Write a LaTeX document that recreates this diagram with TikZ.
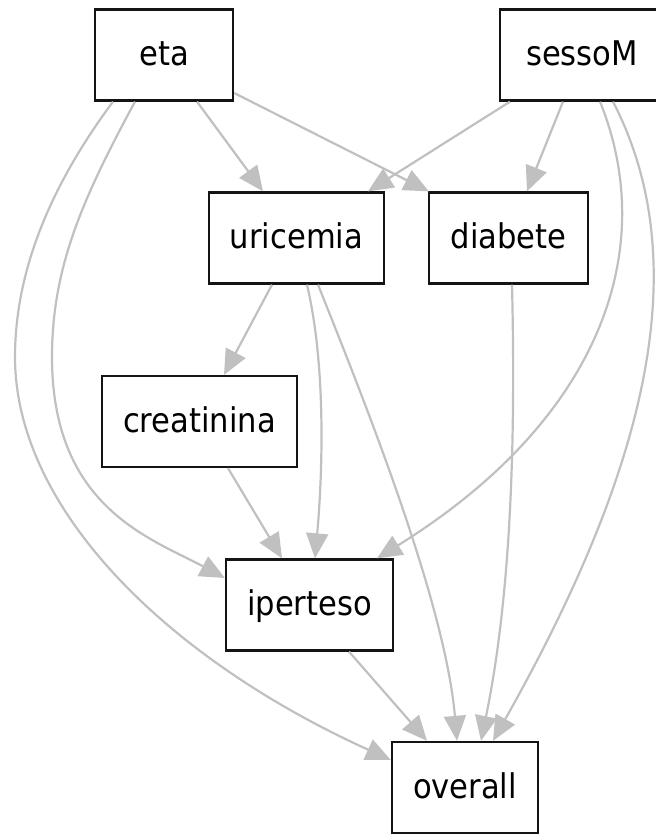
\documentclass[tikz,border=0pt]{standalone}
\usepackage{fontspec}
\setmainfont{DejaVu Sans Condensed}
\usetikzlibrary{arrows.meta}

\definecolor{edgegray}{RGB}{192,192,192}
\definecolor{boxline}{RGB}{20,20,20}

\tikzset{
  var/.style={draw=boxline, line width=2.3pt, rectangle, minimum height=91pt,
    inner sep=0pt, text height=27pt, text depth=6pt,
    font=\fontsize{34pt}{37pt}\selectfont, text=black},
  edge/.style={draw=edgegray, line width=2.2pt,
    -{Triangle[length=25pt,width=22pt,fill=edgegray]}}
}

\begin{document}
\begin{tikzpicture}[x=1pt,y=-1pt]
\useasboundingbox (0,0) rectangle (656,836);
\clip (0,0) rectangle (656,836);

% variables
\node[var, minimum width=138pt] (eta)        at (164,55)      {eta};
\node[var, minimum width=164pt] (sesso)      at (582,55)      {sessoM};
\node[var, minimum width=175pt] (uric)       at (296.5,238)   {uricemia};
\node[var, minimum width=159pt] (diab)       at (508.5,238)   {diabete};
\node[var, minimum width=195pt] (creat)      at (199.5,421.5) {creatinina};
\node[var, minimum width=167pt] (iper)       at (309.5,605)   {iperteso};
\node[var, minimum width=146pt] (overall)    at (465,787.5)   {overall};

% straight dependencies
\draw[edge] ([shift={(33,0)}]eta.south) -- ([shift={(-33.5,0)}]uric.north);
\draw[edge] ([shift={(0,38)}]eta.east) -- ([shift={(1,0)}]diab.north west);
\draw[edge] ([shift={(-72,0)}]sesso.south) -- ([shift={(71.5,0)}]uric.north);
\draw[edge] ([shift={(-19,0)}]sesso.south) -- ([shift={(18.5,0)}]diab.north);
\draw[edge] ([shift={(-24.5,0)}]uric.south) -- ([shift={(24.5,0)}]creat.north);
\draw[edge] ([shift={(28.5,0)}]creat.south) -- ([shift={(-27.5,0)}]iper.north);
\draw[edge] ([shift={(39.5,0)}]iper.south) -- ([shift={(-38,0)}]overall.north);

% curved dependencies
\draw[edge] ([shift={(18,0)}]sesso.south) .. controls (660,250) and (600,420) .. ([shift={(67.5,0)}]iper.north);
\draw[edge] ([shift={(31,0)}]sesso.south) .. controls (700,270) and (640,480) .. ([shift={(28,0)}]overall.north);
\draw[edge] ([shift={(-29,0)}]eta.south) .. controls (83,198) and (52,267) .. (52,357)
  .. controls (52,507) and (150,538) .. ([shift={(0,-27)}]iper.west);
\draw[edge] ([shift={(-51,0)}]eta.south) .. controls (54,181) and (15,267) .. (15,357)
  .. controls (15,507) and (164,657) .. ([shift={(0,-27.5)}]overall.west);
\draw[edge] ([shift={(10.5,0)}]uric.south) .. controls (327,370) and (322,480) .. ([shift={(5.5,0)}]iper.north);
\draw[edge] ([shift={(21.5,0)}]uric.south) .. controls (360,390) and (445,600) .. ([shift={(-8,0)}]overall.north);
\draw[edge] ([shift={(3.5,0)}]diab.south) .. controls (516,450) and (510,600) .. ([shift={(16,0)}]overall.north);
\end{tikzpicture}
\end{document}
